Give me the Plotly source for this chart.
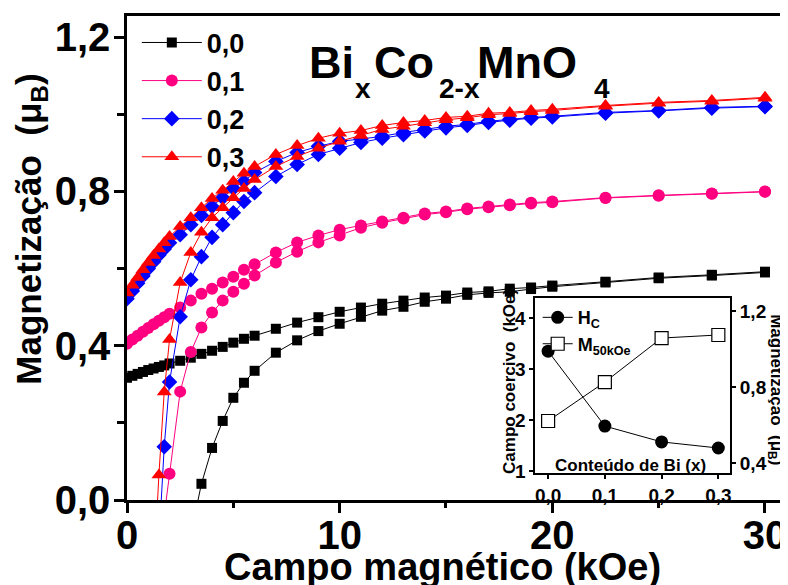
import plotly.graph_objects as go

# ---------------- main data (field in kOe, magnetization in muB) ----------------
H_up = [0, 0.25, 0.5, 0.75, 1.0, 1.25, 1.5, 1.75, 2.0,
        2.5, 3, 3.5, 4, 4.5, 5, 5.5, 6,
        7, 8, 9, 10, 11, 12, 13, 14, 15, 16, 17, 18, 19, 20,
        22.5, 25, 27.5, 30]

m00_up = [0.317, 0.322, 0.327, 0.332, 0.337, 0.341, 0.345, 0.349, 0.354,
          0.361, 0.369, 0.379, 0.387, 0.397, 0.408, 0.418, 0.426,
          0.444, 0.460, 0.474, 0.488, 0.499, 0.509, 0.517, 0.525, 0.530, 0.538, 0.541, 0.548, 0.551, 0.556,
          0.566, 0.577, 0.584, 0.592]
m01_up = [0.405, 0.416, 0.426, 0.436, 0.446, 0.456, 0.465, 0.474, 0.483,
          0.499, 0.517, 0.535, 0.548, 0.564, 0.579, 0.597, 0.611,
          0.642, 0.668, 0.686, 0.701, 0.712, 0.722, 0.732, 0.743, 0.748, 0.756, 0.761, 0.766, 0.771, 0.774,
          0.784, 0.790, 0.795, 0.800]
m02_up = [0.522, 0.542, 0.562, 0.581, 0.600, 0.618, 0.635, 0.651, 0.667,
          0.688, 0.714, 0.738, 0.761, 0.784, 0.808, 0.826, 0.849,
          0.878, 0.901, 0.917, 0.930, 0.936, 0.943, 0.953, 0.961, 0.969, 0.974, 0.982, 0.987, 0.992, 0.995,
          1.005, 1.010, 1.018, 1.021]
m03_up = [0.537, 0.557, 0.577, 0.597, 0.616, 0.634, 0.651, 0.667, 0.683,
          0.709, 0.732, 0.758, 0.782, 0.803, 0.826, 0.847, 0.865,
          0.896, 0.919, 0.938, 0.951, 0.958, 0.971, 0.979, 0.984, 0.992, 0.995, 1.003, 1.005, 1.010, 1.013,
          1.023, 1.031, 1.036, 1.044]

H_tail = [7, 8, 9, 10, 11, 12, 13, 14, 15, 16, 17, 18, 19, 20, 22.5, 25, 27.5, 30]

H00_lo = [3.0, 3.5, 4, 4.5, 5, 5.5, 6] + H_tail
m00_lo = [-0.09, 0.042, 0.135, 0.205, 0.265, 0.304, 0.335,
          0.382, 0.414, 0.438, 0.457, 0.475, 0.491, 0.501, 0.514, 0.522, 0.532, 0.537, 0.540, 0.547, 0.553,
          0.564, 0.575, 0.582, 0.590]
H01_lo = [1.75, 2.0, 2.5, 3, 3.5, 4, 4.5, 5, 5.5, 6] + H_tail
m01_lo = [-0.04, 0.068, 0.281, 0.384, 0.447, 0.486, 0.517, 0.540, 0.561, 0.582,
          0.616, 0.644, 0.668, 0.686, 0.706, 0.719, 0.730, 0.740, 0.746, 0.754, 0.759, 0.764, 0.769, 0.772,
          0.783, 0.789, 0.794, 0.799]
H02_lo = [1.5, 1.75, 2.0, 2.5, 3, 3.5, 4, 4.5, 5, 5.5, 6] + H_tail
m02_lo = [-0.11, 0.138, 0.306, 0.475, 0.571, 0.631, 0.681, 0.714, 0.745, 0.774, 0.797,
          0.839, 0.870, 0.896, 0.912, 0.927, 0.938, 0.947, 0.957, 0.965, 0.971, 0.979, 0.985, 0.990, 0.993,
          1.003, 1.009, 1.016, 1.020]
H03_lo = [1.25, 1.5, 1.75, 2.0, 2.5, 3, 3.5, 4, 4.5, 5, 5.5, 6] + H_tail
m03_lo = [-0.20, 0.065, 0.280, 0.416, 0.564, 0.642, 0.694, 0.732, 0.758, 0.784, 0.808, 0.831,
          0.865, 0.891, 0.912, 0.930, 0.945, 0.961, 0.969, 0.978, 0.986, 0.991, 0.999, 1.002, 1.007, 1.010,
          1.021, 1.029, 1.034, 1.042]

series_names = ["0,0", "0,1", "0,2", "0,3"]
series_colors = ["#000000", "#FF0080", "#0000FF", "#FF0000"]
series_symbols = ["square", "circle", "diamond", "triangle-up"]
series_sizes = [10, 12, 12, 13]

# ---------------- inset data ----------------
bi_x = [0.0, 0.1, 0.2, 0.3]
hc_vals = [3.35, 1.88, 1.57, 1.45]
m50_vals = [0.621, 0.826, 1.058, 1.074]

main_ticks_x = [0, 10, 20, 30]
main_ticks_y = [0.0, 0.4, 0.8, 1.2]
main_ticktext_y = ["0,0", "0,4", "0,8", "1,2"]
inset_ticks_x = [0.0, 0.1, 0.2, 0.3]
inset_ticktext_x = ["0,0", "0,1", "0,2", "0,3"]
inset_ticks_hc = [1, 2, 3, 4]
inset_ticks_m = [0.4, 0.8, 1.2]
inset_ticktext_m = ["0,4", "0,8", "1,2"]

FONT = "Liberation Sans, Arial, Helvetica, sans-serif"

fig = go.Figure()

ups = [m00_up, m01_up, m02_up, m03_up]
los = [(H00_lo, m00_lo), (H01_lo, m01_lo), (H02_lo, m02_lo), (H03_lo, m03_lo)]
for i in range(4):
    hx = list(H_up) + [None] + list(los[i][0])
    my = list(ups[i]) + [None] + list(los[i][1])
    fig.add_trace(go.Scatter(
        x=hx, y=my, mode="lines+markers", name=series_names[i],
        line=dict(color=series_colors[i], width=1),
        marker=dict(symbol=series_symbols[i], size=series_sizes[i], color=series_colors[i]),
        connectgaps=False, xaxis="x", yaxis="y", legend="legend",
    ))

fig.add_trace(go.Scatter(
    x=bi_x, y=hc_vals, mode="lines+markers", name="H<sub>C</sub>",
    line=dict(color="black", width=1),
    marker=dict(symbol="circle", size=13, color="black"),
    xaxis="x2", yaxis="y2", legend="legend2",
))
fig.add_trace(go.Scatter(
    x=bi_x, y=m50_vals, mode="lines+markers", name="M<sub>50kOe</sub>",
    line=dict(color="black", width=1),
    marker=dict(symbol="square", size=13, color="white", line=dict(color="black", width=1.2)),
    xaxis="x2", yaxis="y3", legend="legend2",
))

axis_common = dict(showline=True, linecolor="black", mirror=True, ticks="outside",
                   tickcolor="black", showgrid=False, zeroline=False)

fig.update_layout(
    width=780, height=577,
    template="none",
    paper_bgcolor="white", plot_bgcolor="white",
    margin=dict(l=119, r=6, t=8, b=85),
    font=dict(family=FONT, color="black"),
    showlegend=True,
    xaxis=dict(**axis_common, range=[0, 30.8], domain=[0, 1], linewidth=2.5,
               tickvals=main_ticks_x, ticklen=10, tickwidth=2.5, ticklabelstandoff=-12,
               tickfont=dict(size=40, weight="bold", family=FONT),
               minor=dict(dtick=5, tick0=0, ticklen=5, tickwidth=2.5, ticks="outside", tickcolor="black")),
    yaxis=dict(**axis_common, range=[0, 1.255], domain=[0, 1], linewidth=2.5,
               tickvals=main_ticks_y, ticktext=main_ticktext_y, ticklen=10, tickwidth=2.5,
               ticklabelstandoff=-4,
               tickfont=dict(size=40, weight="bold", family=FONT),
               minor=dict(dtick=0.2, tick0=0, ticklen=7, tickwidth=2.5, ticks="outside", tickcolor="black")),
    xaxis2=dict(**axis_common, range=[-0.023, 0.321], domain=[0.623, 0.921], anchor="y2",
                linewidth=1.5, tickvals=inset_ticks_x, ticktext=inset_ticktext_x,
                ticklen=4, tickwidth=1.5, tickfont=dict(size=19, weight="bold", family=FONT)),
    yaxis2=dict(**axis_common, range=[0.96, 4.39], domain=[0.0558, 0.417], anchor="x2",
                linewidth=1.5, tickvals=inset_ticks_hc, ticklen=4, tickwidth=1.5,
                tickfont=dict(size=19, weight="bold", family=FONT)),
    yaxis3=dict(showline=True, linecolor="black", ticks="outside", tickcolor="black",
                showgrid=False, zeroline=False,
                range=[0.347, 1.268], overlaying="y2", side="right", anchor="x2",
                linewidth=1.5, tickvals=inset_ticks_m, ticktext=inset_ticktext_m,
                ticklen=4, tickwidth=1.5, tickfont=dict(size=19, weight="bold", family=FONT)),
    legend=dict(x=0.015, y=0.995, xanchor="left", yanchor="top", bgcolor="rgba(0,0,0,0)",
                font=dict(size=27, weight="bold", family=FONT), itemwidth=60,
                tracegroupgap=0),
    legend2=dict(x=0.627, y=0.415, xanchor="left", yanchor="top", bgcolor="rgba(0,0,0,0)",
                 font=dict(size=18, weight="bold", family=FONT), itemwidth=30,
                 tracegroupgap=0),
)

annots = []
# Main y title
annots.append(dict(text="Magnetização  (μ<sub>B</sub>)", xref="paper", yref="paper",
                   x=-0.147, y=0.56, xanchor="center", yanchor="middle", textangle=-90,
                   showarrow=False, font=dict(size=35, weight="bold", family=FONT)))
# Main x title
annots.append(dict(text="Campo magnético (kOe)", xref="paper", yref="paper",
                   x=0.4824, y=-0.138, xanchor="center", yanchor="middle",
                   showarrow=False, font=dict(size=38, weight="bold", family=FONT)))
# Formula title with deep subscripts
formula_parts = [("Bi", 0.2748, 45, 0.9035), ("x", 0.345, 28, 0.850),
                 ("Co", 0.374, 45, 0.9035), ("2-x", 0.473, 28, 0.850),
                 ("MnO", 0.532, 45, 0.9035), ("4", 0.710, 28, 0.850)]
for txt, xp, sz, yp in formula_parts:
    annots.append(dict(text=txt, xref="paper", yref="paper", x=xp, y=yp,
                       xanchor="left", yanchor="middle", showarrow=False,
                       font=dict(size=sz, weight="bold", family=FONT)))
# Inset titles
annots.append(dict(text="Campo coercivo  (kOe)", xref="paper", yref="paper",
                   x=0.5847, y=0.2459, xanchor="center", yanchor="middle", textangle=-90,
                   showarrow=False, font=dict(size=17, weight="bold", family=FONT)))
annots.append(dict(text="Magnetização  (μ<sub>B</sub>)", xref="paper", yref="paper",
                   x=0.9893, y=0.227, xanchor="center", yanchor="middle", textangle=90,
                   showarrow=False, font=dict(size=17, weight="bold", family=FONT)))
annots.append(dict(text="Conteúdo de Bi (x)", xref="paper", yref="paper",
                   x=0.768, y=0.0723, xanchor="center", yanchor="middle",
                   showarrow=False, font=dict(size=17, weight="bold", family=FONT)))
fig.update_layout(annotations=annots)

fig.write_html("out.html")
